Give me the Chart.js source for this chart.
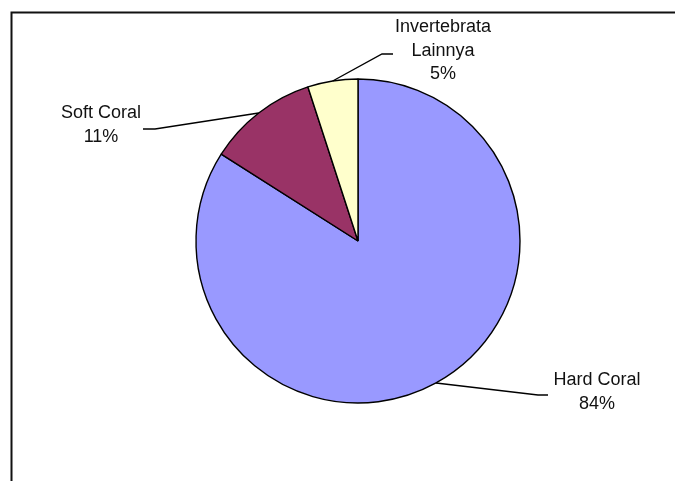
<!DOCTYPE html>
<html>
<head>
<meta charset="utf-8">
<script src="https://cdn.jsdelivr.net/npm/chart.js@4.4.1/dist/chart.umd.min.js"></script>
<style>
  html, body { margin: 0; padding: 0; background: #fff; }
  #wrap { position: relative; width: 675px; height: 481px; }
</style>
</head>
<body>
<div id="wrap"><canvas id="coverChart" width="675" height="481"></canvas></div>
<script>
// Benthic cover composition
const categories = ["Hard Coral", "Soft Coral", "Invertebrata Lainnya"];
const labelLines = [["Hard Coral"], ["Soft Coral"], ["Invertebrata", "Lainnya"]];
const coverValues = [84, 11, 5];
const sliceColors = ["#9999FF", "#993366", "#FFFFCC"];

// label block centre + leader elbow/end, as offsets from the pie centre
const labelPlacement = [
  { tx: 239, ty: 151, ex: 180, ey: 154, hx: 190 },
  { tx: -257, ty: -116, ex: -203, ey: -112, hx: -215 },
  { tx: 85, ty: -190, ex: 24, ey: -187, hx: 35 },
];

const frame = {
  id: "frame",
  beforeDraw(chart) {
    const c = chart.ctx;
    c.save();
    c.strokeStyle = "#111";
    c.lineWidth = 2;
    c.beginPath();
    c.moveTo(11.5, chart.height);
    c.lineTo(11.5, 12.5);
    c.lineTo(chart.width, 12.5);
    c.stroke();
    c.restore();
  },
};

const sliceLabels = {
  id: "sliceLabels",
  afterDatasetsDraw(chart) {
    const c = chart.ctx;
    const arcs = chart.getDatasetMeta(0).data;
    const total = coverValues.reduce((a, b) => a + b, 0);
    c.save();
    c.font = '18px "Liberation Sans", Arial, sans-serif';
    c.fillStyle = "#111";
    c.textAlign = "center";
    c.textBaseline = "middle";
    c.strokeStyle = "#000";
    c.lineWidth = 1.4;
    arcs.forEach((arc, i) => {
      const p = labelPlacement[i];
      const mid = (arc.startAngle + arc.endAngle) / 2;
      const ax = arc.x + Math.cos(mid) * arc.outerRadius;
      const ay = arc.y + Math.sin(mid) * arc.outerRadius;

      c.beginPath();
      c.moveTo(ax, ay);
      c.lineTo(arc.x + p.ex, arc.y + p.ey);
      c.lineTo(arc.x + p.hx, arc.y + p.ey);
      c.stroke();

      const lines = labelLines[i].concat([Math.round((coverValues[i] / total) * 100) + "%"]);
      const lh = 23.5;
      const top = arc.y + p.ty - ((lines.length - 1) * lh) / 2;
      lines.forEach((t, k) => c.fillText(t, arc.x + p.tx, top + k * lh));
    });
    c.restore();
  },
};

new Chart(document.getElementById("coverChart"), {
  type: "pie",
  data: {
    labels: categories,
    datasets: [
      {
        data: coverValues,
        backgroundColor: sliceColors,
        borderColor: "#000",
        borderWidth: 1.4,
        radius: 162,
      },
    ],
  },
  options: {
    responsive: false,
    animation: false,
    layout: { padding: { left: 41, right: 0, top: 1, bottom: 0 } },
    plugins: {
      legend: { display: false },
      tooltip: { enabled: false },
    },
  },
  plugins: [frame, sliceLabels],
});
</script>
</body>
</html>
